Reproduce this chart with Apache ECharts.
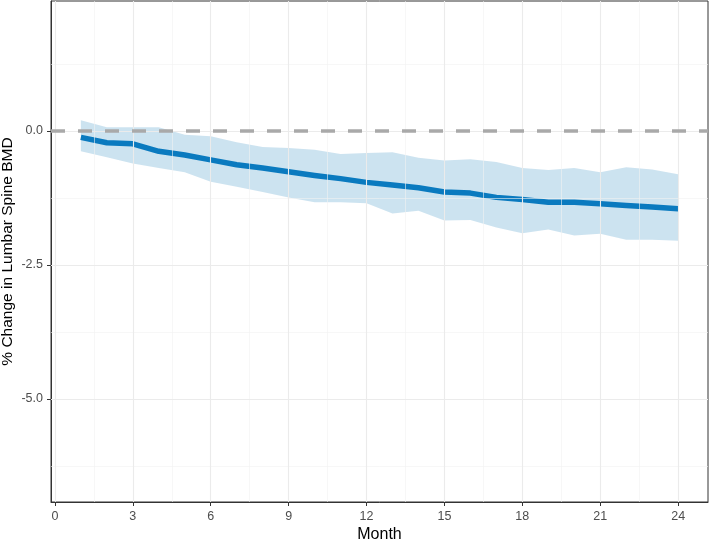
<!DOCTYPE html>
<html><head><meta charset="utf-8">
<script src="https://cdn.jsdelivr.net/npm/echarts@6/dist/echarts.min.js"></script>
<style>html,body{margin:0;padding:0;background:#fff}#c{width:709px;height:540px}</style>
</head><body><div id="c"></div>
<script>
// Data
const months = [1,2,3,4,5,6,7,8,9,10,11,12,13,14,15,16,17,18,19,20,21,22,23,24];
const meanChange = [-0.12,-0.22,-0.24,-0.38,-0.45,-0.54,-0.63,-0.69,-0.76,-0.83,-0.89,-0.96,-1.01,-1.06,-1.14,-1.16,-1.24,-1.28,-1.33,-1.33,-1.36,-1.39,-1.42,-1.45];
const upperCI = [0.20,0.07,0.07,0.07,-0.07,-0.10,-0.21,-0.30,-0.32,-0.35,-0.43,-0.41,-0.40,-0.50,-0.55,-0.53,-0.58,-0.69,-0.73,-0.69,-0.77,-0.68,-0.72,-0.81];
const lowerCI = [-0.38,-0.49,-0.61,-0.69,-0.77,-0.95,-1.04,-1.14,-1.24,-1.33,-1.33,-1.35,-1.54,-1.49,-1.67,-1.66,-1.80,-1.91,-1.84,-1.95,-1.92,-2.03,-2.03,-2.05];
const xTicks = [0,3,6,9,12,15,18,21,24];
const xMinorGrid = [1.5,4.5,7.5,10.5,13.5,16.5,19.5,22.5];
const yTicks = [0,-2.5,-5];
const yMinorGrid = [1.25,-1.25,-3.75,-6.25];
const xRange = [-0.15, 25.15];
const yRange = [-6.925, 2.425];

const chart = echarts.init(document.getElementById('c'), null, {renderer:'canvas'});
const gridLines = [];
xMinorGrid.forEach(v => gridLines.push({xAxis: v, lineStyle:{color:'#f2f2f2', width:0.6, type:'solid'}}));
yMinorGrid.forEach(v => gridLines.push({yAxis: v, lineStyle:{color:'#f2f2f2', width:0.6, type:'solid'}}));
xTicks.forEach(v => gridLines.push({xAxis: v, lineStyle:{color:'#ebebeb', width:1.1, type:'solid'}}));
yTicks.forEach(v => gridLines.push({yAxis: v, lineStyle:{color:'#ebebeb', width:1.1, type:'solid'}}));

const bandData = months.map((m, i) => [m, lowerCI[i], upperCI[i]]);

const font = "'Liberation Sans', Arial, sans-serif";
chart.setOption({
  animation: false,
  backgroundColor: '#fff',
  grid: {left: 51, right: 1, top: 1, bottom: 38, containLabel: false, outerBoundsMode: 'none',
         show: true, borderColor: '#333', borderWidth: 1, backgroundColor: 'transparent'},
  xAxis: {
    type: 'value', min: xRange[0], max: xRange[1],
    name: 'Month', nameLocation: 'middle', nameGap: 25, nameMoveOverlap: false,
    nameTextStyle: {fontFamily: font, fontSize: 16, color: '#000'},
    axisLine: {show: true, onZero: false, lineStyle: {color: '#333', width: 1}},
    axisTick: {show: true, length: 4, lineStyle: {color: '#333'}, customValues: xTicks},
    axisLabel: {fontFamily: font, fontSize: 12.5, color: '#4d4d4d', margin: 8, customValues: xTicks},
    splitLine: {show: false}
  },
  yAxis: {
    type: 'value', min: yRange[0], max: yRange[1],
    name: '% Change in Lumbar Spine BMD', nameLocation: 'middle', nameGap: 35, nameRotate: 90,
    nameMoveOverlap: false,
    nameTextStyle: {fontFamily: font, fontSize: 15.5, color: '#000'},
    axisLine: {show: true, onZero: false, lineStyle: {color: '#333', width: 1}},
    axisTick: {show: true, length: 4, lineStyle: {color: '#333'}, customValues: yTicks},
    axisLabel: {fontFamily: font, fontSize: 12.5, color: '#4d4d4d', margin: 8, customValues: yTicks,
      formatter: v => v.toFixed(1)},
    splitLine: {show: false}
  },
  series: [
    {type: 'line', data: [], silent: true, z: 0,
     markLine: {silent: true, symbol: 'none', label: {show: false}, animation: false, data: gridLines}},
    {type: 'custom', name: 'band', z: 1, silent: true,
     data: [0],
     encode: {x: [], y: []},
     renderItem: function (params, api) {
       const top = bandData.map(d => api.coord([d[0], d[2]]));
       const bottom = bandData.map(d => api.coord([d[0], d[1]])).reverse();
       return {type: 'polygon', shape: {points: top.concat(bottom)},
               style: {fill: 'rgba(0,114,178,0.2)'}};
     }},
    {type: 'line', data: [], z: 2, silent: true,
     markLine: {silent: true, symbol: 'none', label: {show: false}, animation: false,
       data: [{yAxis: 0, lineStyle: {color: '#a9a9a9', width: 3.5, type: [14, 13]}}]}},
    {type: 'line', name: 'mean', z: 3,
     data: months.map((m, i) => [m, meanChange[i]]), showSymbol: false, symbol: 'none',
     lineStyle: {color: '#0a7abf', width: 5.5, cap: 'butt', join: 'round'}, silent: true}
  ]
});
</script></body></html>
